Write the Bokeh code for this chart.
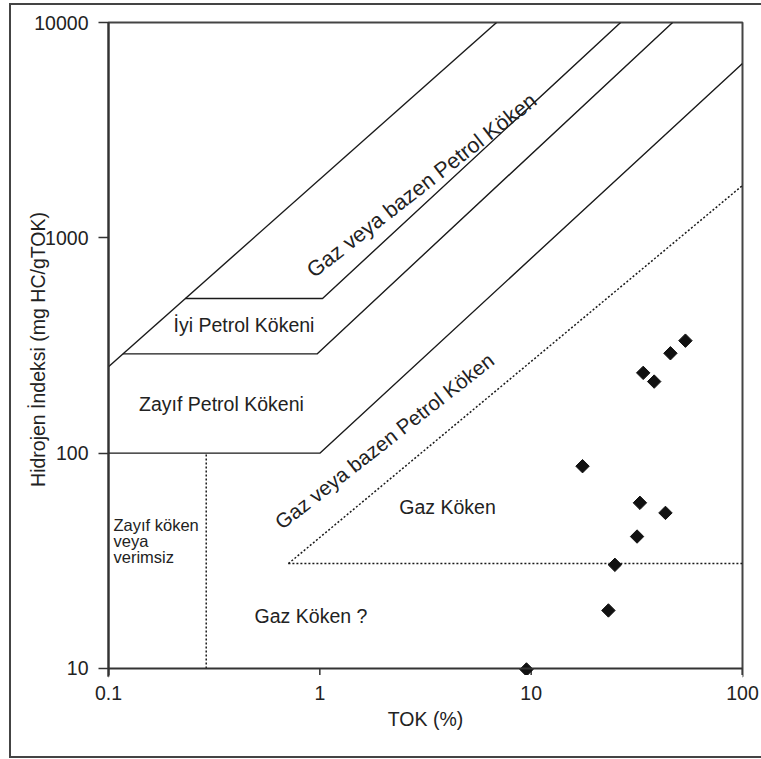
import numpy as np
from bokeh.plotting import figure
from bokeh.models import FixedTicker, NumeralTickFormatter, Span
from bokeh.core.properties import value
from bokeh.embed import file_html
from bokeh.resources import INLINE

# ---- data ----
toc = [53.7, 45.6, 33.9, 38.2, 17.5, 32.7, 43.2, 31.7, 24.9, 23.2, 9.5]
hi = [333, 291, 236, 215, 87, 58.8, 52.8, 41.0, 30.3, 18.6, 9.9]

x_ticks = [0.1, 1, 10, 100]
y_ticks = [10, 100, 1000, 10000]

# boundary lines of the diagram (TOK, HI)
b1_x = [0.1, 6.86]
b1_y = [252, 10000]
b2_x = [0.231, 1.03, 26.5]
b2_y = [523, 523, 10000]
b3_x = [0.117, 0.97, 46.7]
b3_y = [289, 289, 10000]
b4_x = [0.1, 1.0, 100]
b4_y = [100, 100, 6450]
d1_x = [0.71, 100]
d1_y = [30.7, 1750]
d2_x = [0.71, 100]
d2_y = [30.7, 30.7]
d3_x = [0.29, 0.29]
d3_y = [10, 100]

X_MIN, X_MAX = 0.1, 100
Y_AXIS = 10          # value where the TOK axis is drawn
Y_MIN = 9.18         # frame reaches slightly below the axis (room for ticks/marker)
Y_MAX = 10000

FONT = "Liberation Sans"
FS = "19.5px"
TXT = "#222222"
AX = "#333333"

p = figure(width=761, height=759, x_axis_type="log", y_axis_type="log",
           x_range=(X_MIN, X_MAX), y_range=(Y_MIN, Y_MAX),
           output_backend="svg", toolbar_location=None,
           min_border_left=108, min_border_right=19,
           min_border_top=22, min_border_bottom=83)
# outer frame of the figure drawn as CSS background lines behind a transparent border
g = "linear-gradient(#444444,#444444)"
p.styles = {
    "background": (f"{g} 9px 3px / 2px 755px no-repeat, "
                   f"{g} 9px 3px / 752px 2px no-repeat, "
                   f"{g} 9px 756px / 752px 2px no-repeat, white"),
    "overflow": "hidden",
}
p.grid.visible = False
p.outline_line_color = "#444444"
p.outline_line_width = 2
p.background_fill_color = "white"
p.border_fill_alpha = 0

for ax in (p.xaxis[0], p.yaxis[0]):
    ax.axis_line_color = AX
    ax.axis_line_width = 2
    ax.major_tick_line_color = AX
    ax.major_tick_line_width = 1.5
    ax.major_tick_in = 0
    ax.minor_tick_in = 0
    ax.minor_tick_out = 0
    ax.major_label_text_font = FONT
    ax.major_label_text_font_size = FS
    ax.major_label_text_color = TXT
    ax.axis_label_text_font = FONT
    ax.axis_label_text_font_size = FS
    ax.axis_label_text_font_style = "normal"
    ax.axis_label_text_color = TXT

p.xaxis.ticker = FixedTicker(ticks=x_ticks, minor_ticks=[])
p.yaxis.ticker = FixedTicker(ticks=y_ticks, minor_ticks=[])
p.xaxis.formatter = NumeralTickFormatter(format="0.[0]")
p.yaxis.formatter = NumeralTickFormatter(format="0")
# x axis line sits at Y_AXIS (drawn below); the frame edge line is hidden
p.xaxis.axis_line_color = "white"
p.xaxis.axis_line_width = 3
p.xaxis.major_tick_out = 0
p.xaxis.major_label_standoff = 9
p.yaxis.major_tick_out = 10
p.yaxis.major_label_standoff = 10
p.xaxis.axis_label = "TOK (%)"
p.yaxis.axis_label = "Hidrojen İndeksi (mg HC/gTOK)"
p.xaxis.axis_label_standoff = 5
p.yaxis.axis_label_standoff = -18

p.add_layout(Span(location=Y_AXIS, dimension="width", line_color=AX, line_width=2))
p.segment(x0=x_ticks, y0=[Y_AXIS] * len(x_ticks), x1=x_ticks,
          y1=[Y_MIN] * len(x_ticks), line_color=AX, line_width=1.5)

LC = "#1a1a1a"
for xs, ys in [(b1_x, b1_y), (b2_x, b2_y), (b3_x, b3_y), (b4_x, b4_y)]:
    p.line(xs, ys, line_color=LC, line_width=1.4)
for xs, ys in [(d1_x, d1_y), (d2_x, d2_y), (d3_x, d3_y)]:
    p.line(xs, ys, line_color=LC, line_width=1.5, line_dash="2 2")

p.scatter(toc, hi, marker="square", angle=np.pi / 4, size=9.5,
          fill_color="#111111", line_color="#111111")

ang = np.deg2rad(38)
labels = [
    ("Gaz veya bazen Petrol Köken", 3.04, 1750, ang, "21.5px"),
    ("Gaz veya bazen Petrol Köken", 2.02, 114, ang, "20.5px"),
    ("İyi Petrol Kökeni", 0.4377, 392, 0, FS),
    ("Zayıf Petrol Kökeni", 0.3424, 170, 0, FS),
    ("Gaz Köken", 4.02, 56.5, 0, FS),
    ("Gaz Köken ?", 0.908, 17.6, 0, FS),
]
for t, x, y, a, fs in labels:
    p.text([x], [y], text=[t], angle=a, text_align="center",
           text_baseline="middle", text_font=value(FONT),
           text_font_size=fs, text_color=TXT)

small = [("Zayıf köken", 46.6), ("veya", 39.3), ("verimsiz", 33.1)]
for t, y in small:
    p.text([0.1056], [y], text=[t], text_align="left",
           text_baseline="alphabetic", text_font=value(FONT),
           text_font_size="16.5px", text_color=TXT)

open("out.html", "w").write(file_html(p, INLINE))
